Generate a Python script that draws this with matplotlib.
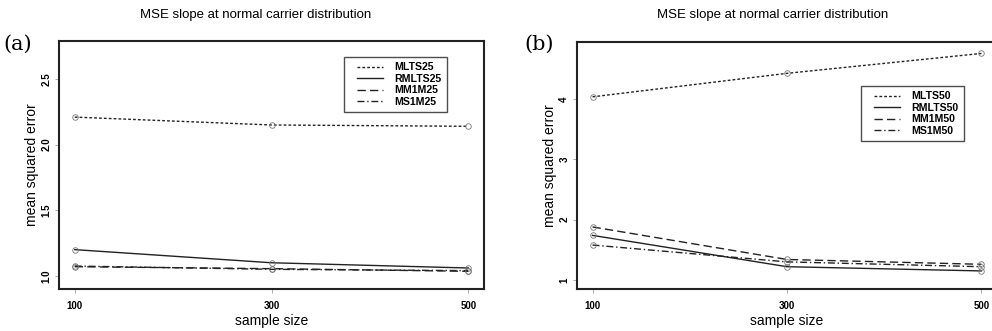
import numpy as np
import matplotlib
matplotlib.use("Agg")
import matplotlib.pyplot as plt
from matplotlib.legend_handler import HandlerLine2D

plt.rcParams['font.family'] = ['Liberation Sans', 'DejaVu Sans']

# sample sizes on the x axis
sizes = [100, 300, 500]

# panel (a): 25% contamination
mlts25 = [2.21, 2.15, 2.14]
rmlts25 = [1.20, 1.10, 1.06]
mm1m25 = [1.07, 1.055, 1.035]
ms1m25 = [1.075, 1.05, 1.04]
labels_a = ["MLTS25", "RMLTS25", "MM1M25", "MS1M25"]

# panel (b): 50% contamination
mlts50 = [4.04, 4.43, 4.76]
rmlts50 = [1.74, 1.22, 1.15]
mm1m50 = [1.88, 1.34, 1.26]
ms1m50 = [1.58, 1.30, 1.22]
labels_b = ["MLTS50", "RMLTS50", "MM1M50", "MS1M50"]

styles = [(0, (2, 1.5)), '-', (0, (6, 3)), (0, (5, 2, 1, 2))]
line_col = '#222222'
title = "MSE slope at normal carrier distribution"

W, H = 992, 331
fig = plt.figure(figsize=(W / 100, H / 100), dpi=100)


def px_axes(left, top, right, bottom):
    return fig.add_axes([left / W, 1 - bottom / H, (right - left) / W, (bottom - top) / H])


def draw_panel(ax, series, labels, ylim, yticks, yticklabels, leg_anchor):
    handles = []
    for vals, ls, lab in zip(series, styles, labels):
        ln, = ax.plot(sizes, vals, linestyle=ls, color=line_col, linewidth=1.0, label=lab)
        handles.append(ln)
        ax.plot(sizes, vals, linestyle='none', marker='o', markersize=4,
                markerfacecolor='none', markeredgecolor='#777777', markeredgewidth=0.6)
    ax.set_xlim(84, 516)
    ax.set_ylim(*ylim)
    ax.set_xticks(sizes)
    ax.set_xticklabels([str(s) for s in sizes], fontsize=7, fontweight='bold')
    ax.set_yticks(yticks)
    ax.set_yticklabels(yticklabels, rotation=90, va='center', fontsize=7, fontweight='bold')
    ax.tick_params(axis='both', direction='out', length=3, width=0.5, color='#888888')
    ax.tick_params(axis='x', pad=5.5)
    ax.tick_params(axis='y', pad=2.5)
    for sp in ax.spines.values():
        sp.set_linewidth(1.5)
        sp.set_color('#222222')
    ax.set_xlabel("sample size", fontsize=10, labelpad=2)
    ax.set_ylabel("mean squared error", fontsize=10, labelpad=2)
    hmap = {h: HandlerLine2D(xpad=0.7) for h in handles}
    leg = ax.legend(handles=handles, handler_map=hmap,
                    loc='upper left', bbox_to_anchor=leg_anchor, bbox_transform=fig.transFigure,
                    fontsize=7.6, frameon=True, fancybox=False, handlelength=3.2,
                    borderpad=0.5, labelspacing=0.15, handletextpad=1.1, borderaxespad=0)
    leg.get_frame().set_edgecolor('#222222')
    leg.get_frame().set_linewidth(1.0)
    for t in leg.get_texts():
        t.set_fontweight('bold')


ax_a = px_axes(59, 41, 484, 289)
draw_panel(ax_a, [mlts25, rmlts25, mm1m25, ms1m25], labels_a, (0.9, 2.79),
           [1.0, 1.5, 2.0, 2.5], ["1.0", "1.5", "2.0", "2.5"], (344 / W, 1 - 57 / H))

ax_b = px_axes(577, 42, 997, 289)
draw_panel(ax_b, [mlts50, rmlts50, mm1m50, ms1m50], labels_b, (0.85, 4.95),
           [1, 2, 3, 4], ["1", "2", "3", "4"], (861 / W, 1 - 86 / H))

fig.text(256 / W, 1 - 15 / H, title, ha='center', va='center', fontsize=9.5)
fig.text(773 / W, 1 - 15 / H, title, ha='center', va='center', fontsize=9.5)
fig.text(3 / W, 1 - 44 / H, "(a)", ha='left', va='center', fontsize=15, family='DejaVu Serif')
fig.text(524 / W, 1 - 44 / H, "(b)", ha='left', va='center', fontsize=15, family='DejaVu Serif')

fig.savefig("out.png", dpi=100)
